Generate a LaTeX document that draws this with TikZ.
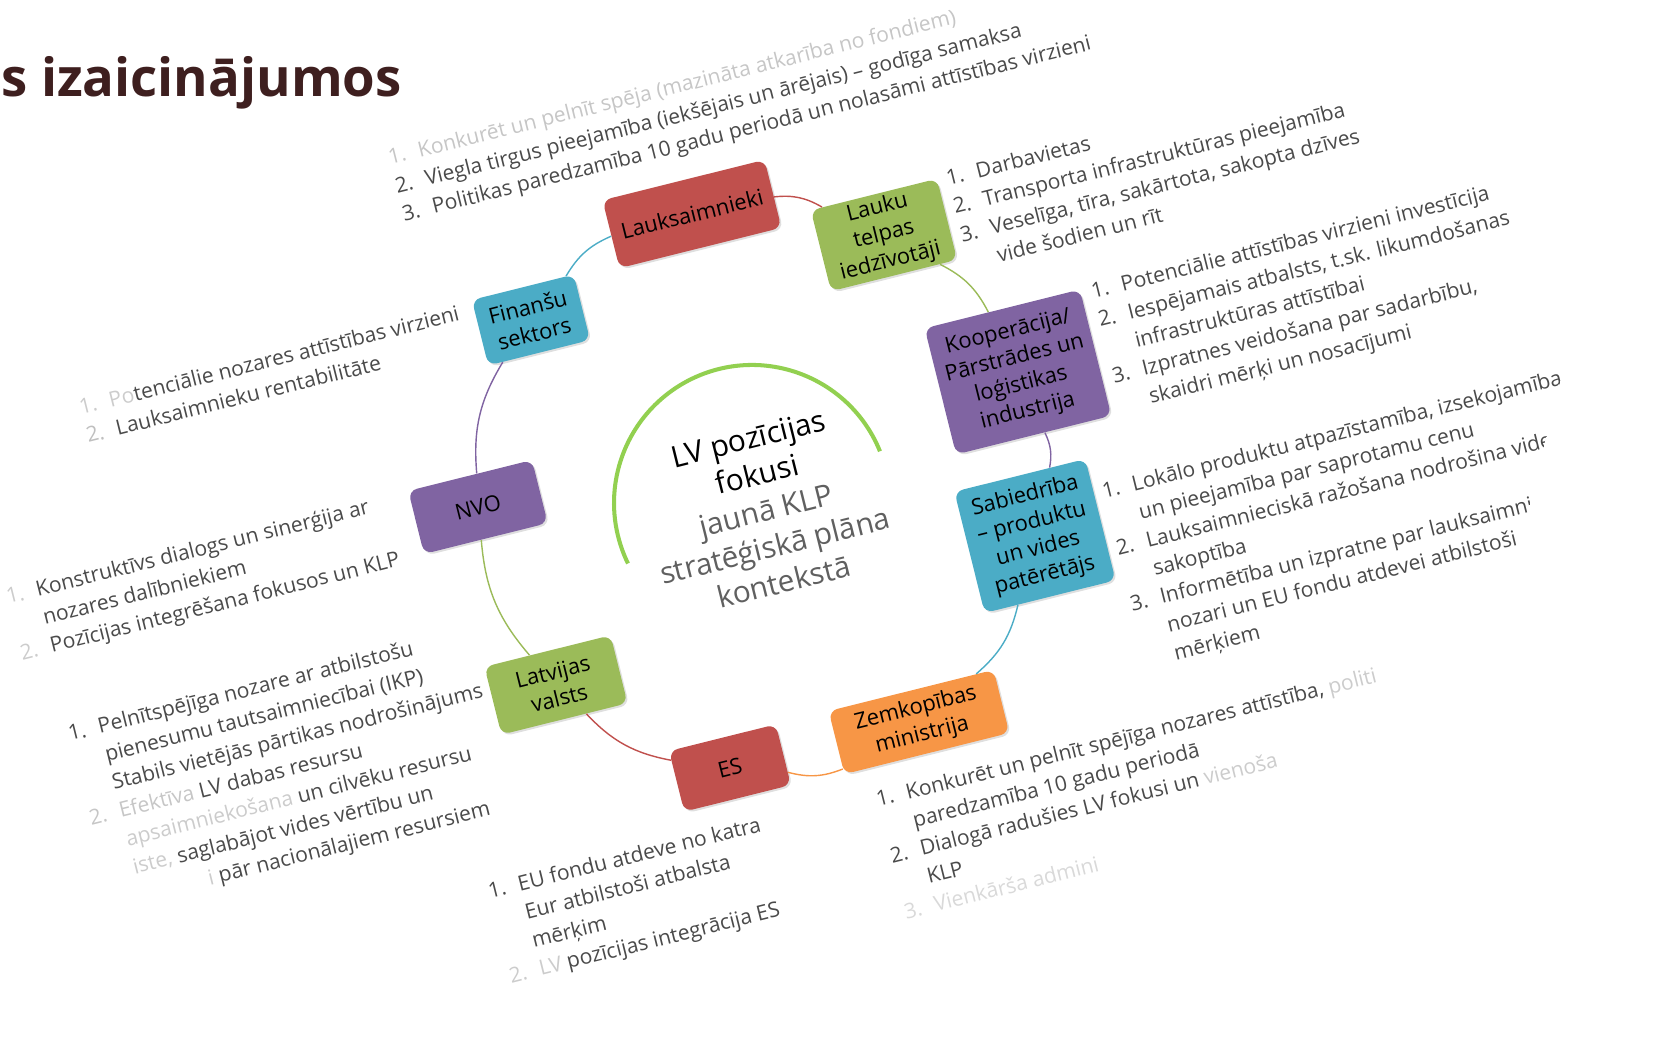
\documentclass[tikz,border=0pt]{standalone}
\usepackage{fontspec}
\setmainfont{Open Sans}
\usetikzlibrary{shadows}

\definecolor{boxred}{HTML}{C0504D}
\definecolor{boxgreen}{HTML}{9BBB59}
\definecolor{boxpurple}{HTML}{8064A2}
\definecolor{boxcyan}{HTML}{4BACC6}
\definecolor{boxorange}{HTML}{F79646}
\definecolor{ringgreen}{HTML}{92D050}
\definecolor{listgray}{HTML}{4A4A4A}
\definecolor{titlebrown}{HTML}{3E1F1F}

\newcommand{\lnum}[1]{\makebox[1.45em][l]{#1}}

\begin{document}
\begin{tikzpicture}[x=0.02cm, y=0.02cm,
  actor/.style={rounded corners=5pt, rotate=14, align=center, inner sep=2pt,
    font=\fontsize{12.5}{15.5}\selectfont,
    drop shadow={opacity=0.25, shadow xshift=1pt, shadow yshift=-1pt}},
  link/.style={line width=0.8pt, bend left=18},
  notes/.style={rotate=14, anchor=north west, align=left, inner sep=0pt,
    text=listgray, font=\fontsize{12}{16.5}\selectfont}]
\useasboundingbox (0,0) rectangle (1672,1041);
\clip (0,0) -- (1395,0) -- (1655,1041) -- (0,1041) -- cycle;

% heading
\node[anchor=base east, text=titlebrown, font=\fontsize{30}{36}\selectfont\bfseries] (title) at (408,944) {s izaicinājumos};

% ring
\draw[ringgreen, line width=2.3pt] (752,538) ++(22:138) arc[start angle=22, end angle=206, radius=138];
\node[rotate=14, align=center, text=gray!75!black, font=\fontsize{17}{21}\selectfont] (focus) at (766,531) {\textcolor{black}{LV pozīcijas}\\ \textcolor{black}{fokusi}\\ jaunā KLP\\ stratēģiskā plāna\\ kontekstā};

\node[actor, fill=boxred, minimum width=3.34cm, minimum height=1.4cm] (lauks) at (692,827) {Lauksaimnieki};
\node[actor, fill=boxgreen, minimum width=2.6cm, minimum height=1.4cm] (lauku) at (884,806) {Lauku\\ telpas\\ iedzīvotāji};
\node[actor, fill=boxpurple, minimum width=3.2cm, minimum height=2.6cm] (koop) at (1018,669) {Kooperācija/\\ Pārstrādes un\\ loģistikas\\ industrija};
\node[actor, fill=boxcyan, minimum width=2.7cm, minimum height=2.5cm] (sabied) at (1035,505) {Sabiedrība\\ – produktu\\ un vides\\ patērētājs};
\node[actor, fill=boxorange, minimum width=3.4cm, minimum height=1.3cm] (zemk) at (919,319) {Zemkopības\\ ministrija};
\node[actor, fill=boxred, minimum width=2.2cm, minimum height=1.25cm] (es) at (730,273) {ES};
\node[actor, fill=boxgreen, minimum width=2.6cm, minimum height=1.4cm] (latv) at (556,356) {Latvijas\\ valsts};
\node[actor, fill=boxpurple, minimum width=2.55cm, minimum height=1.3cm] (nvo) at (478,534) {NVO};
\node[actor, fill=boxcyan, minimum width=2.1cm, minimum height=1.35cm] (fin) at (531,721) {Finanšu\\ sektors};

\draw[link, boxred] (lauks) to (lauku);
\draw[link, boxgreen] (lauku) to (koop);
\draw[link, boxpurple] (koop) to (sabied);
\draw[link, boxcyan] (sabied) to (zemk);
\draw[link, boxorange] (zemk) to (es);
\draw[link, boxred] (es) to (latv);
\draw[link, boxgreen] (latv) to (nvo);
\draw[link, boxpurple] (nvo) to (fin);
\draw[link, boxcyan] (fin) to (lauks);

% lists
\node[notes] (lauksnotes) at (386,892) {\textcolor{gray!45}{\lnum{1.}Konkurēt un pelnīt spēja (mazināta atkarība no fondiem)}\\
  \lnum{2.}Viegla tirgus pieejamība (iekšējais un ārējais) – godīga samaksa\\
  \lnum{3.}Politikas paredzamība 10 gadu periodā un nolasāmi attīstības virzieni};
\node[notes] (laukunotes) at (944,871) {\lnum{1.}Darbavietas\\
  \lnum{2.}Transporta infrastruktūras pieejamība\\
  \lnum{3.}Veselīga, tīra, sakārtota, sakopta dzīves\\
  \lnum{}vide šodien un rīt};
\node[notes] (koopnotes) at (1089,758) {\lnum{1.}Potenciālie attīstības virzieni investīcija\\
  \lnum{2.}Iespējamais atbalsts, t.sk. likumdošanas\\
  \lnum{}infrastruktūras attīstībai\\
  \lnum{3.}Izpratnes veidošana par sadarbību,\\
  \lnum{}skaidri mērķi un nosacījumi};
\node[notes] (sabiednotes) at (1100,558) {\lnum{1.}Lokālo produktu atpazīstamība, izsekojamība\\
  \lnum{}un pieejamība par saprotamu cenu\\
  \lnum{2.}Lauksaimnieciskā ražošana nodrošina vides\\
  \lnum{}sakoptība\\
  \lnum{3.}Informētība un izpratne par lauksaimniecības\\
  \lnum{}nozari un EU fondu atdevei atbilstoši\\
  \lnum{}mērķiem};
\node[notes] (zemknotes) at (874,250) {\lnum{1.}Konkurēt un pelnīt spējīga nozares attīstība, \textcolor{gray!40}{politi}\\
  \lnum{}paredzamība 10 gadu periodā\\
  \lnum{2.}Dialogā radušies LV fokusi un \textcolor{gray!40}{vienoša}\\
  \lnum{}KLP\\
  \textcolor{gray!30}{\lnum{3.}Vienkārša admini}};
\node[notes] (esnotes) at (486,158) {\lnum{1.}EU fondu atdeve no katra\\
  \lnum{}Eur atbilstoši atbalsta\\
  \lnum{}mērķim\\
  \textcolor{gray!40}{\lnum{2.}LV} pozīcijas integrācija ES};
\node[notes] (latvnotes) at (66,316) {\lnum{1.}Pelnītspējīga nozare ar atbilstošu\\
  \lnum{}pienesumu tautsaimniecībai (IKP)\\
  \lnum{}Stabils vietējās pārtikas nodrošinājums\\
  \textcolor{gray!45}{\lnum{2.}Efektīva} LV dabas resursu\\
  \lnum{}\textcolor{gray!40}{apsaimniekošana} un cilvēku resursu\\
  \lnum{}\textcolor{gray!40}{iste,} saglabājot vides vērtību un\\
  \lnum{}\phantom{kontrol}\textcolor{gray!40}{i} pār nacionālajiem resursiem};
\node[notes] (nvonotes) at (4,453) {\textcolor{gray!40}{\lnum{1.}}Konstruktīvs dialogs un sinerģija ar\\
  \lnum{}nozares dalībniekiem\\
  \textcolor{gray!40}{\lnum{2.}}Pozīcijas integrēšana fokusos un KLP};
\node[notes] (finnotes) at (77,642) {\textcolor{gray!40}{\lnum{1.}Po}tenciālie nozares attīstības virzieni\\
  \textcolor{gray!50}{\lnum{2.}}Lauksaimnieku rentabilitāte};
\end{tikzpicture}
\end{document}
